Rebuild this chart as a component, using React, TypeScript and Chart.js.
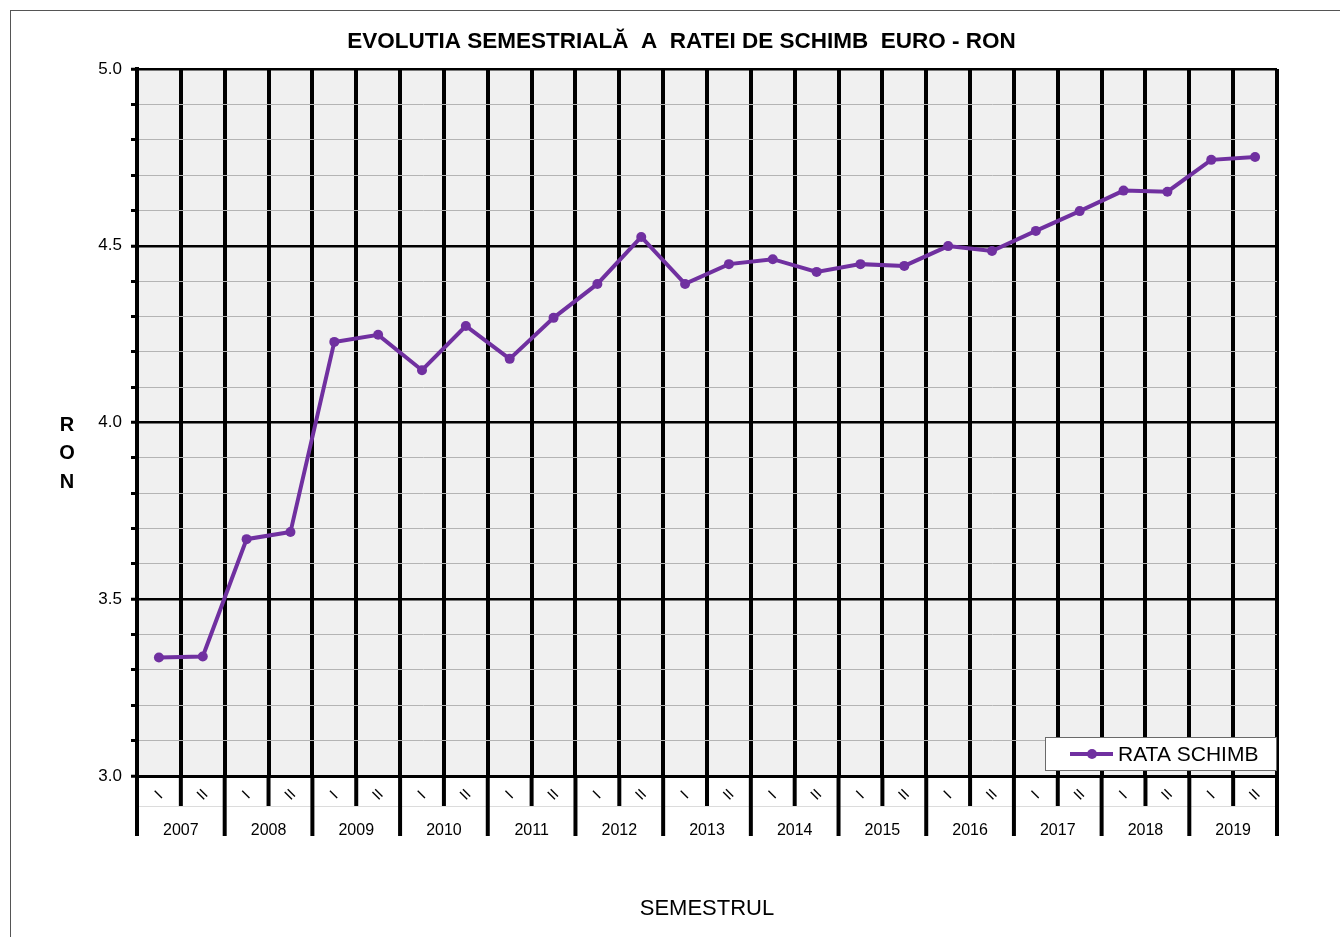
import React, { useEffect, useRef } from 'react';
import { Chart, registerables } from 'chart.js';

Chart.register(...registerables);

const FONT = "'Liberation Sans', Arial, Helvetica, sans-serif";
const PURPLE = '#7030a0';

const chartTitle = 'EVOLUTIA SEMESTRIALĂ  A  RATEI DE SCHIMB  EURO - RON';
const xAxisTitle = 'SEMESTRUL';
const yAxisLetters = ['R', 'O', 'N'];
const seriesName = 'RATA SCHIMB';

const years = ['2007', '2008', '2009', '2010', '2011', '2012', '2013', '2014', '2015', '2016', '2017', '2018', '2019'];
const semesters = ['I', 'II'];
const categories = years.flatMap((y) => semesters.map((s) => `${s} ${y}`));

const rates = [
  3.335, 3.338, 3.67, 3.69, 4.228, 4.248, 4.148, 4.273, 4.18, 4.296, 4.392, 4.525, 4.392,
  4.448, 4.462, 4.426, 4.448, 4.443, 4.499, 4.485, 4.542, 4.598, 4.656, 4.653, 4.743, 4.751,
];

const yMin = 3.0;
const yMax = 5.0;
const yStep = 0.1;
const yLabelled = ['3.0', '3.5', '4.0', '4.5', '5.0'];

function isMajor(v: number) {
  return yLabelled.includes(v.toFixed(1)) && Math.abs(v * 10 - Math.round(v * 10)) < 1e-6;
}

export default function App() {
  const ref = useRef<HTMLCanvasElement>(null);

  useEffect(() => {
    const canvas = ref.current;
    if (!canvas) return;

    const decor = {
      id: 'decor',
      beforeDraw(chart: any) {
        const { ctx, chartArea: a } = chart;
        ctx.save();
        ctx.fillStyle = '#f0f0f0';
        ctx.fillRect(a.left, a.top, a.right - a.left, a.bottom - a.top);
        ctx.restore();
      },
      afterDraw(chart: any) {
        const { ctx, chartArea: a } = chart;
        const xs = chart.scales.x;
        const n = categories.length;
        const w = (xs.getPixelForValue(n - 1) - xs.getPixelForValue(0)) / (n - 1);
        ctx.save();

        // chart title
        ctx.fillStyle = '#000';
        ctx.font = `bold 22.5px ${FONT}`;
        ctx.textAlign = 'center';
        ctx.textBaseline = 'alphabetic';
        ctx.fillText(chartTitle, chart.width / 2, 37);

        // faint separator line below semester labels
        ctx.strokeStyle = '#dcdcdc';
        ctx.lineWidth = 1;
        ctx.beginPath();
        ctx.moveTo(a.left, a.bottom + 30.5);
        ctx.lineTo(a.right, a.bottom + 30.5);
        ctx.stroke();

        // tick extensions
        ctx.strokeStyle = '#000';
        ctx.lineWidth = 4;
        for (let i = 0; i <= n; i++) {
          const x = xs.getPixelForValue(0) - w / 2 + i * w;
          const len = i % 2 === 0 ? 60 : 30;
          ctx.beginPath();
          ctx.moveTo(x, a.bottom);
          ctx.lineTo(x, a.bottom + len);
          ctx.stroke();
        }

        // semester roman numerals (rotated)
        ctx.fillStyle = '#000';
        ctx.font = `15px ${FONT}`;
        ctx.textAlign = 'center';
        ctx.textBaseline = 'middle';
        for (let i = 0; i < n; i++) {
          const x = xs.getPixelForValue(i);
          ctx.save();
          ctx.translate(x, a.bottom + 19);
          ctx.rotate(-Math.PI / 4);
          ctx.fillText(semesters[i % 2], 0, 0);
          ctx.restore();
        }

        // year labels
        ctx.font = `16px ${FONT}`;
        years.forEach((y, k) => {
          const x = (xs.getPixelForValue(2 * k) + xs.getPixelForValue(2 * k + 1)) / 2;
          ctx.fillText(y, x, a.bottom + 55);
        });

        // Y axis title: stacked letters
        ctx.font = `bold 20px ${FONT}`;
        yAxisLetters.forEach((ch, k) => {
          ctx.fillText(ch, 56, 414 + k * 28.5);
        });

        // legend box
        const bw = 232;
        const bh = 34;
        const bx = a.right - bw;
        const by = a.bottom - 5 - bh;
        ctx.fillStyle = '#ffffff';
        ctx.fillRect(bx, by, bw, bh);
        ctx.strokeStyle = '#6a6a6a';
        ctx.lineWidth = 1;
        ctx.strokeRect(bx + 0.5, by + 0.5, bw - 1, bh - 1);
        const ly = by + bh / 2;
        ctx.strokeStyle = PURPLE;
        ctx.lineWidth = 4;
        ctx.beginPath();
        ctx.moveTo(bx + 25, ly);
        ctx.lineTo(bx + 68, ly);
        ctx.stroke();
        ctx.fillStyle = PURPLE;
        ctx.beginPath();
        ctx.arc(bx + 47, ly, 5, 0, Math.PI * 2);
        ctx.fill();
        ctx.fillStyle = '#000';
        ctx.font = `21px ${FONT}`;
        ctx.textAlign = 'left';
        ctx.fillText(seriesName, bx + 73, ly + 1);

        ctx.restore();
      },
    };

    const chart = new Chart(canvas, {
      type: 'line',
      data: {
        labels: categories,
        datasets: [
          {
            label: seriesName,
            data: rates,
            borderColor: PURPLE,
            backgroundColor: PURPLE,
            borderWidth: 4,
            pointRadius: 5,
            pointBorderWidth: 0,
            pointBackgroundColor: PURPLE,
            tension: 0,
          },
        ],
      },
      options: {
        responsive: false,
        animation: false,
        devicePixelRatio: 1,
        layout: { padding: { left: 0, right: 75, top: 58, bottom: 0 } },
        plugins: {
          legend: { display: false },
          tooltip: { enabled: false },
          title: { display: false },
        },
        scales: {
          x: {
            type: 'category',
            offset: true,
            grid: { offset: true, color: '#000', lineWidth: 4, drawTicks: false },
            border: { display: true, color: '#000', width: 3 },
            ticks: { display: false },
            title: {
              display: true,
              text: xAxisTitle,
              color: '#000',
              font: { family: FONT, size: 22 },
              padding: { top: 0, bottom: 15 },
            },
            afterFit: (s: any) => {
              s.height = 161;
            },
          },
          y: {
            min: yMin,
            max: yMax,
            grid: {
              color: (c: any) => (isMajor(c.tick.value) ? '#000' : '#b4b4b4'),
              lineWidth: (c: any) => (isMajor(c.tick.value) ? 2.5 : 1),
              tickColor: '#000',
              tickWidth: 3,
              tickLength: 6,
            },
            border: { display: true, color: '#000', width: 4 },
            ticks: {
              stepSize: yStep,
              padding: 9,
              color: '#000',
              font: { family: FONT, size: 17 },
              autoSkip: false,
              callback: (v: any) => {
                const s = Number(v).toFixed(1);
                return yLabelled.includes(s) && isMajor(Number(v)) ? s : '';
              },
            },
            afterFit: (s: any) => {
              s.width = 126;
            },
          },
        },
      },
      plugins: [decor],
    } as any);

    return () => chart.destroy();
  }, []);

  return (
    <div style={{ position: 'absolute', left: 0, top: 0, width: 1340, height: 937, overflow: 'hidden', background: '#fff' }}>
      <div
        style={{
          position: 'absolute',
          left: 10,
          top: 10,
          width: 1341,
          height: 930,
          borderLeft: '1px solid #555',
          borderTop: '1px solid #555',
        }}
      >
        <canvas ref={ref} width={1341} height={926} style={{ display: 'block', width: 1341, height: 926 }} />
      </div>
    </div>
  );
}
